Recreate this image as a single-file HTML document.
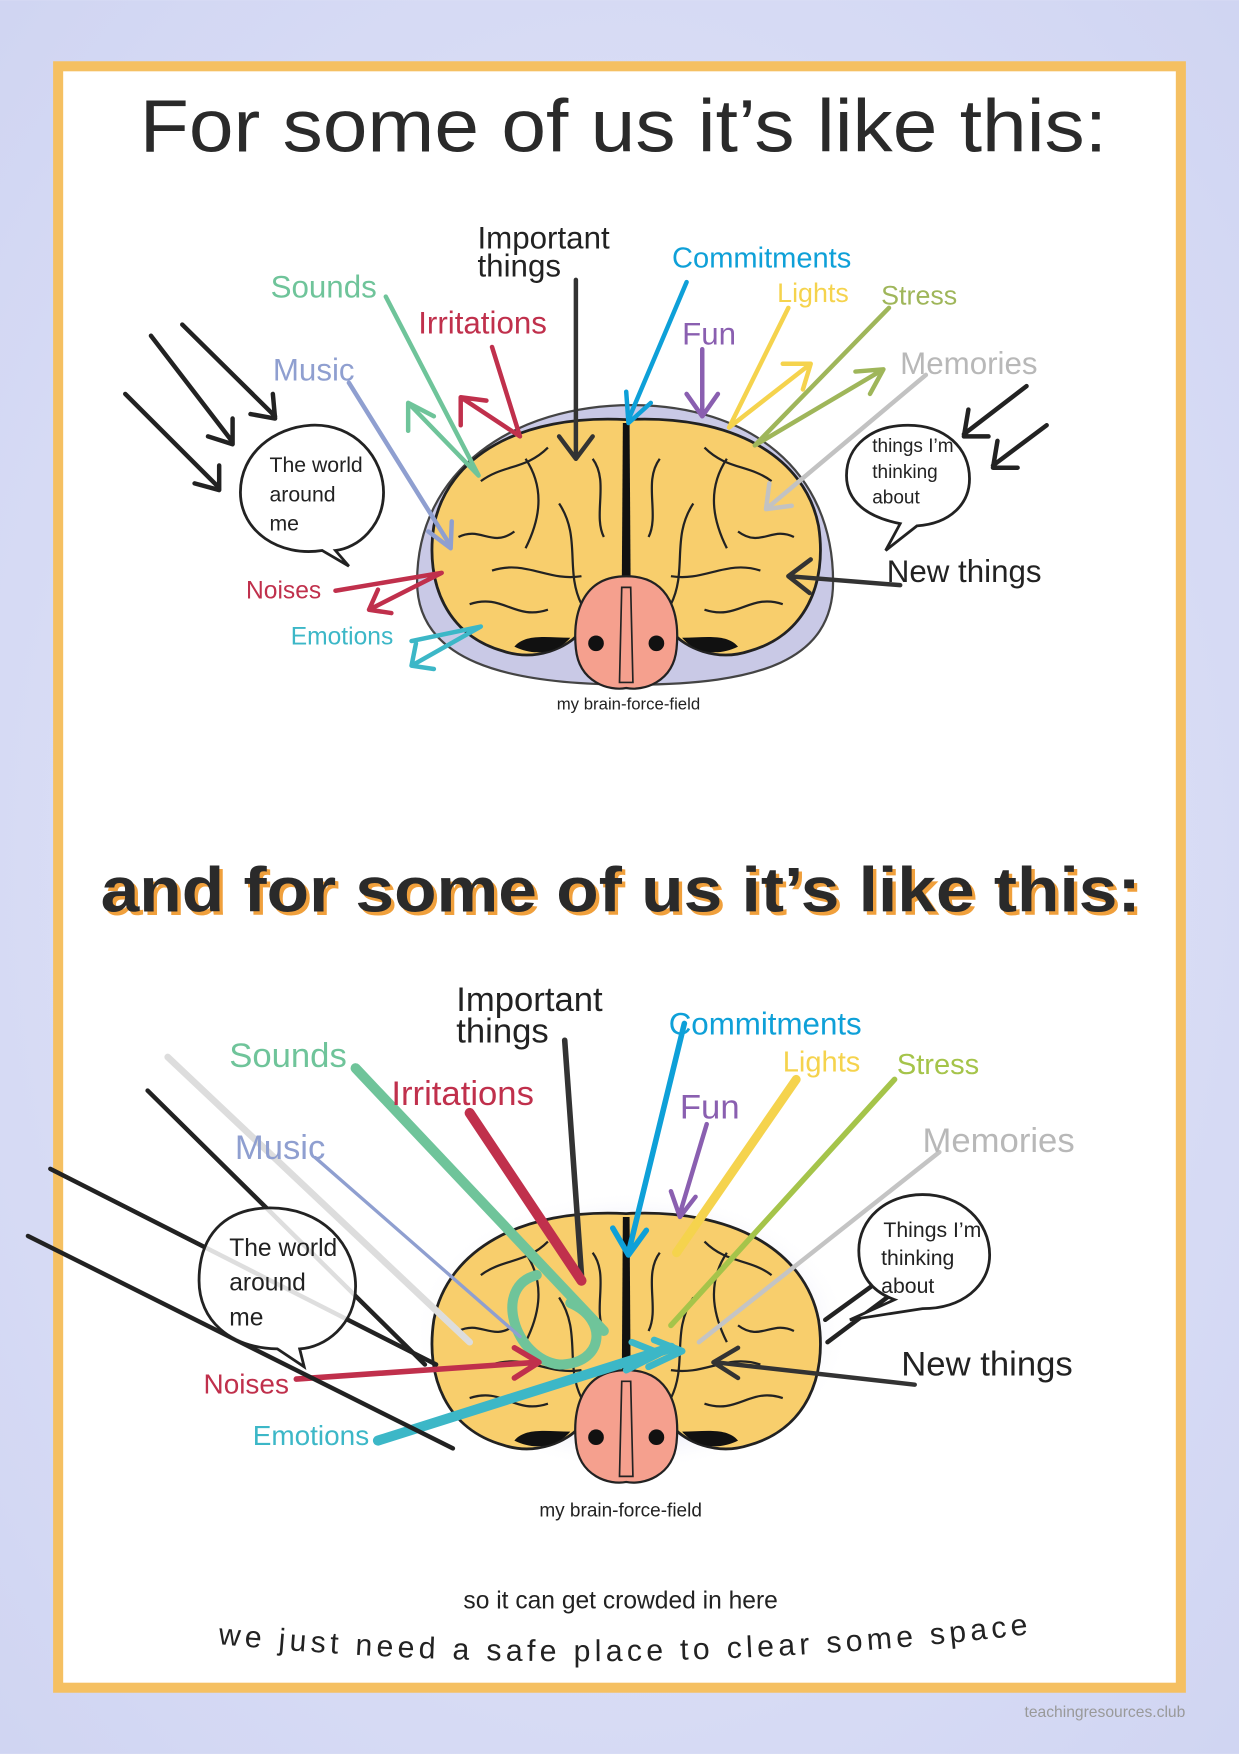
<!DOCTYPE html>
<html><head><meta charset="utf-8"><style>
html,body{margin:0;padding:0;background:#dcdff5}
svg{display:block}
text{font-family:"Liberation Sans",sans-serif}
</style></head><body>
<svg width="1239" height="1754" viewBox="0 0 1108 1568" xmlns="http://www.w3.org/2000/svg">
<defs>
<radialGradient id="bg" cx="50%" cy="50%" r="70%"><stop offset="0" stop-color="#e6e8fa"/><stop offset="1" stop-color="#d0d5f2"/></radialGradient>
<radialGradient id="glow" cx="50%" cy="50%" r="50%"><stop offset="0.7" stop-color="#e4e4f4"/><stop offset="1" stop-color="#ffffff" stop-opacity="0"/></radialGradient>
<g id="brain">
<path d="M0,-95 C-95,-100 -160,-62 -172,0 C-180,52 -160,98 -110,112 C-80,122 -52,108 -42,96 L42,96 C52,108 80,122 110,112 C160,98 180,52 172,0 C160,-62 95,-100 0,-95 Z" fill="#f8ce6c" stroke="#222" stroke-width="2.5"/>
<path d="M-100,108 C-80,118 -60,112 -50,100 C-70,100 -90,96 -100,108Z M100,108 C80,118 60,112 50,100 C70,100 90,96 100,108Z" fill="#111"/>
<path d="M-3,-92 L3,-92 L4,60 L0,75 L-4,60 Z" fill="#111"/>
<g fill="none" stroke="#222" stroke-width="2">
<path d="M-130,-40 C-110,-55 -90,-50 -70,-70"/><path d="M-150,10 C-130,0 -120,20 -100,5"/><path d="M-120,40 C-90,30 -70,50 -40,45"/><path d="M-140,70 C-110,60 -100,85 -70,75"/><path d="M-60,-20 C-40,10 -55,40 -40,70"/><path d="M-90,-60 C-70,-30 -80,0 -90,20"/><path d="M-30,-60 C-15,-40 -30,-10 -20,10"/>
<path d="M130,-40 C110,-55 90,-50 70,-70"/><path d="M150,10 C130,0 120,20 100,5"/><path d="M120,40 C90,30 70,50 40,45"/><path d="M140,70 C110,60 100,85 70,75"/><path d="M60,-20 C40,10 55,40 40,70"/><path d="M90,-60 C70,-30 80,0 90,20"/><path d="M30,-60 C15,-40 30,-10 20,10"/>
</g>
<path d="M0,45 C-40,45 -48,80 -45,110 C-42,140 -15,148 0,145 C15,148 42,140 45,110 C48,80 40,45 0,45Z" fill="#f5a08e" stroke="#222" stroke-width="2"/>
<path d="M-4,55 L4,55 L6,140 L-6,140Z" fill="none" stroke="#222" stroke-width="1.5"/>
<circle cx="-27" cy="105" r="7" fill="#111"/><circle cx="27" cy="105" r="7" fill="#111"/>
</g>
</defs>
<rect width="1108" height="1568" fill="url(#bg)"/>
<rect x="52" y="59" width="1004" height="1450" fill="#fff" stroke="#f5c062" stroke-width="9"/>
<text x="125" y="135" font-size="66" textLength="865" lengthAdjust="spacingAndGlyphs" fill="#2a2a2a">For some of us it’s like this:</text>

<!-- brain 1 -->
<path d="M373,520 C373,420 460,362 565,362 C670,362 745,420 745,520 C745,590 680,612 565,612 C450,612 373,590 373,520Z" fill="#c9c9e6" stroke="#444" stroke-width="2"/>
<use href="#brain" x="560" y="470"/>
<text x="562" y="634" font-size="15" text-anchor="middle" fill="#222">my brain-force-field</text>

<g fill="none" stroke-width="4" stroke-linecap="round" stroke-linejoin="round">
<path d="M515,250 L515,408 M500,390 L515,410 L530,390" stroke="#333"/>
<path d="M614,252 L562,375 M560,350 L562,378 L582,360" stroke="#0ea0d8"/>
<path d="M628,312 L628,370 M614,352 L628,372 L642,352" stroke="#8a5fb0"/>
<path d="M705,275 L652,382 M652,382 L725,325 M700,325 L725,325 L718,348" stroke="#f5d34d"/>
<path d="M795,275 L675,398 M675,398 L790,330 M765,332 L790,330 L778,352" stroke="#9fb65a"/>
<path d="M828,335 L685,455 M688,432 L685,455 L708,452" stroke="#c2c2c2"/>
<path d="M805,523 L705,515 M725,500 L705,515 L724,530" stroke="#333"/>
<path d="M345,265 L428,425 L365,360 M365,385 L365,360 L388,372" stroke="#6fc49a"/>
<path d="M440,310 L465,390 L412,355 M412,380 L412,355 L435,358" stroke="#c0304c"/>
<path d="M312,342 L403,488 M383,475 L403,490 L404,466" stroke="#8f9fd0"/>
<path d="M300,528 L395,512 L330,545 M338,527 L330,545 L350,548" stroke="#c0304c"/>
<path d="M368,573 L430,560 L368,595 M372,575 L368,595 L388,598" stroke="#3cb7c7"/>
<path d="M163,290 L246,372 M224,370 L246,374 L244,352" stroke="#222"/>
<path d="M135,300 L208,395 M186,390 L208,397 L208,374" stroke="#222"/>
<path d="M112,352 L196,436 M174,432 L196,438 L196,416" stroke="#222"/>
<path d="M918,345 L862,388 M866,366 L862,390 L884,390" stroke="#222"/>
<path d="M936,380 L888,416 M892,394 L888,418 L910,418" stroke="#222"/>
</g>
<path d="M278,380 C318,378 343,410 343,440 C343,470 320,490 300,492 L312,506 L288,492 C250,498 215,475 215,440 C215,405 245,382 278,380Z" fill="#fff" stroke="#222" stroke-width="2.5"/>
<text font-size="19" fill="#222"><tspan x="241" y="422">The world</tspan><tspan x="241" y="448">around</tspan><tspan x="241" y="474">me</tspan></text>
<path d="M812,380 C845,380 867,400 867,428 C867,450 850,468 820,470 L792,492 L805,468 C775,462 757,448 757,425 C757,398 780,380 812,380Z" fill="#fff" stroke="#222" stroke-width="2.5"/>
<text font-size="17" fill="#222"><tspan x="780" y="404">things I’m</tspan><tspan x="780" y="427">thinking</tspan><tspan x="780" y="450">about</tspan></text>

<g font-size="28">
<text x="427" y="222" fill="#222">Important</text><text x="427" y="247" fill="#222">things</text>
<text x="601" y="239" font-size="26" fill="#0ea0d8">Commitments</text>
<text x="695" y="270" font-size="24" fill="#f5d34d">Lights</text>
<text x="788" y="272" font-size="24" fill="#9fb65a">Stress</text>
<text x="610" y="308" fill="#8a5fb0">Fun</text>
<text x="805" y="334" fill="#b8b8b8">Memories</text>
<text x="242" y="266" fill="#6fc49a">Sounds</text>
<text x="374" y="298" fill="#c0304c">Irritations</text>
<text x="244" y="340" fill="#8f9fd0">Music</text>
<text x="220" y="535" font-size="22" fill="#c0304c">Noises</text>
<text x="260" y="576" font-size="22" fill="#3cb7c7">Emotions</text>
<text x="793" y="520" fill="#222">New things</text>
</g>

<!-- section 2 -->
<text x="93" y="818" font-size="56" font-weight="bold" textLength="930" lengthAdjust="spacingAndGlyphs" fill="#f0a03c">and for some of us it’s like this:</text>
<text x="90" y="815" font-size="56" font-weight="bold" textLength="930" lengthAdjust="spacingAndGlyphs" fill="#2a2a2a">and for some of us it’s like this:</text>

<ellipse cx="565" cy="1190" rx="195" ry="125" fill="url(#glow)"/>
<use href="#brain" x="560" y="1180"/>
<text x="555" y="1356" font-size="17" text-anchor="middle" fill="#222">my brain-force-field</text>

<g fill="none" stroke-linecap="round" stroke-linejoin="round">
<path d="M505,930 L520,1140" stroke="#333" stroke-width="5"/>
<path d="M612,915 L562,1120 M548,1098 L562,1122 L578,1100" stroke="#0ea0d8" stroke-width="5"/>
<path d="M632,1005 L608,1085 M600,1065 L608,1088 L622,1070" stroke="#8a5fb0" stroke-width="4"/>
<path d="M712,965 L605,1120" stroke="#f5d34d" stroke-width="8"/>
<path d="M800,965 L600,1185" stroke="#a5c44a" stroke-width="5"/>
<path d="M840,1030 L625,1200" stroke="#c4c4c4" stroke-width="4"/>
<path d="M818,1238 L640,1218 M660,1205 L638,1218 L660,1232" stroke="#333" stroke-width="4"/>
<path d="M318,955 L540,1190" stroke="#6fc49a" stroke-width="9"/>
<path d="M480,1140 C440,1150 460,1215 500,1220 C540,1220 545,1180 510,1165" stroke="#6fc49a" stroke-width="9"/>
<path d="M420,995 L520,1145" stroke="#c0304c" stroke-width="9"/>
<path d="M282,1035 L465,1195" stroke="#8f9fd0" stroke-width="3"/>
<path d="M265,1233 L480,1218 M460,1205 L482,1218 L460,1232" stroke="#c0304c" stroke-width="5"/>
<path d="M338,1288 L600,1205" stroke="#3cb7c7" stroke-width="9"/>
<path d="M560,1225 L590,1210 L565,1200 M580,1222 L610,1208 L585,1198" stroke="#3cb7c7" stroke-width="6"/>
<path d="M132,975 L380,1220" stroke="#222" stroke-width="4"/>
<path d="M45,1045 L390,1220" stroke="#222" stroke-width="4"/>
<path d="M25,1105 L405,1295" stroke="#222" stroke-width="4"/>
<path d="M150,945 L420,1200" stroke="#ddd" stroke-width="6"/>
<path d="M800,1135 L738,1180 M800,1155 L740,1200" stroke="#222" stroke-width="4"/>
</g>
<path d="M237,1080 C290,1078 318,1115 318,1150 C318,1185 290,1205 268,1206 L272,1222 L248,1206 C205,1205 178,1180 178,1145 C178,1105 200,1082 237,1080Z" fill="#fff" fill-opacity="0.85" stroke="#222" stroke-width="2.5"/>
<text font-size="22" fill="#222"><tspan x="205" y="1123">The world</tspan><tspan x="205" y="1154">around</tspan><tspan x="205" y="1185">me</tspan></text>
<path d="M825,1068 C860,1068 885,1092 885,1122 C885,1150 860,1170 825,1170 L760,1180 L800,1162 C780,1155 768,1140 768,1118 C768,1090 792,1068 825,1068Z" fill="#fff" stroke="#222" stroke-width="2.5"/>
<text font-size="19" fill="#222"><tspan x="790" y="1106">Things I’m</tspan><tspan x="788" y="1131">thinking</tspan><tspan x="788" y="1156">about</tspan></text>

<g font-size="31">
<text x="408" y="904" fill="#222">Important</text><text x="408" y="932" fill="#222">things</text>
<text x="598" y="925" font-size="28" fill="#0ea0d8">Commitments</text>
<text x="700" y="958" font-size="26" fill="#f5d34d">Lights</text>
<text x="802" y="960" font-size="26" fill="#a5c44a">Stress</text>
<text x="608" y="1000" fill="#8a5fb0">Fun</text>
<text x="825" y="1030" fill="#b8b8b8">Memories</text>
<text x="205" y="954" fill="#6fc49a">Sounds</text>
<text x="350" y="988" fill="#c0304c">Irritations</text>
<text x="210" y="1036" fill="#8f9fd0">Music</text>
<text x="182" y="1246" font-size="25" fill="#c0304c">Noises</text>
<text x="226" y="1292" font-size="25" fill="#3cb7c7">Emotions</text>
<text x="806" y="1230" fill="#222">New things</text>
</g>

<text x="555" y="1438" font-size="22" text-anchor="middle" fill="#222">so it can get crowded in here</text>
<path id="curve" d="M195,1470 Q560,1505 930,1460" fill="none"/>
<text font-size="27" fill="#222" letter-spacing="4"><textPath href="#curve" textLength="730">we just need a safe place to clear some space</textPath></text>
<text x="1060" y="1535" font-size="14" text-anchor="end" fill="#999">teachingresources.club</text>
</svg>
</body></html>
